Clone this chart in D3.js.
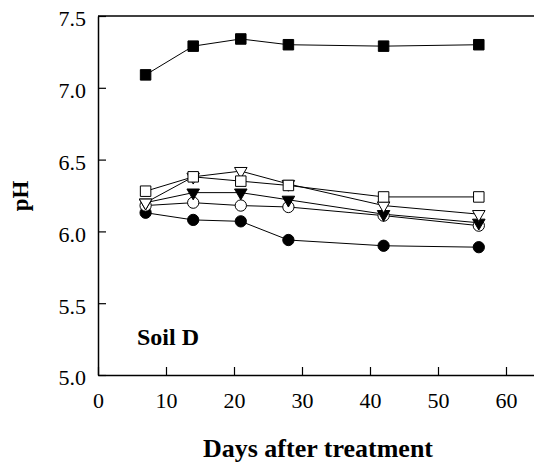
<!DOCTYPE html>
<html>
<head>
<meta charset="utf-8">
<script src="https://cdn.jsdelivr.net/npm/d3@7"></script>
<style>
  html, body { margin: 0; padding: 0; background: #fff; }
  svg { display: block; }
</style>
</head>
<body>
<svg id="chart" width="534" height="463"></svg>
<script>
// Sampling days
const days = [7, 14, 21, 28, 42, 56];

// pH by treatment
const filledSquare   = [7.09, 7.29, 7.34, 7.30, 7.29, 7.30];
const openSquare     = [6.28, 6.38, 6.35, 6.32, 6.24, 6.24];
const openTriangle   = [6.20, 6.38, 6.42, 6.33, 6.18, 6.12];
const filledTriangle = [6.20, 6.27, 6.27, 6.22, 6.12, 6.06];
const openCircle     = [6.18, 6.20, 6.18, 6.17, 6.11, 6.04];
const filledCircle   = [6.13, 6.08, 6.07, 5.94, 5.90, 5.89];

const xTicks = [0, 10, 20, 30, 40, 50, 60];
const yTicks = [5.0, 5.5, 6.0, 6.5, 7.0, 7.5];

const series = [
  { values: filledCircle,   shape: "circle",   fill: "#000" },
  { values: openCircle,     shape: "circle",   fill: "#fff" },
  { values: filledTriangle, shape: "triangle", fill: "#000" },
  { values: openTriangle,   shape: "triangle", fill: "#fff" },
  { values: openSquare,     shape: "square",   fill: "#fff" },
  { values: filledSquare,   shape: "square",   fill: "#000" }
];

const FONT = "Liberation Serif";
const svg = d3.select("#chart");
const plotLeft = 98, plotTop = 16, plotBottom = 375;
const x = d3.scaleLinear().domain([0, 65]).range([plotLeft, plotLeft + 6.8 * 65]);
const y = d3.scaleLinear().domain([5.0, 7.5]).range([plotBottom, plotTop]);

// Frame (top and right edges)
svg.append("line").attr("x1", x(0)).attr("x2", x(65)).attr("y1", y(7.5)).attr("y2", y(7.5))
  .attr("stroke", "#000").attr("stroke-width", 1.5);
svg.append("line").attr("x1", x(65)).attr("x2", x(65)).attr("y1", y(7.5)).attr("y2", y(5.0))
  .attr("stroke", "#000").attr("stroke-width", 1.5);

// Axes with inward ticks
const xAxis = svg.append("g").attr("transform", `translate(0,${plotBottom})`)
  .call(d3.axisBottom(x).tickValues(xTicks).tickSizeInner(-8).tickSizeOuter(0).tickPadding(17));
const yAxis = svg.append("g").attr("transform", `translate(${plotLeft},0)`)
  .call(d3.axisLeft(y).tickValues(yTicks).tickSizeInner(-8).tickSizeOuter(0).tickPadding(12)
    .tickFormat(d3.format(".1f")));
[xAxis, yAxis].forEach(g => {
  g.select(".domain").attr("stroke-width", 1.5);
  g.selectAll(".tick line").attr("stroke-width", 1.2);
  g.selectAll("text").attr("fill", "#000")
    .style("font-family", FONT).style("font-size", "22px");
});
xAxis.selectAll(".tick text").attr("dy", "0.71em");
yAxis.selectAll(".tick text").attr("dy", "0.45em");

// Lines and markers
const line = d3.line().x((d, i) => x(days[i])).y(d => y(d));
const sym = {
  circle: d3.symbol().type(d3.symbolCircle).size(100),
  square: d3.symbol().type(d3.symbolSquare).size(110),
  triangle: d3.symbol().type(d3.symbolTriangle).size(68)
};
series.forEach(s => {
  svg.append("path").datum(s.values).attr("d", line)
    .attr("fill", "none").attr("stroke", "#000").attr("stroke-width", 1);
});
series.forEach(s => {
  svg.append("g").selectAll("path").data(s.values).join("path")
    .attr("d", sym[s.shape])
    .attr("transform", (d, i) => `translate(${x(days[i])},${y(d)})` + (s.shape === "triangle" ? " rotate(180)" : ""))
    .attr("fill", s.fill).attr("stroke", "#000").attr("stroke-width", 1);
});

// Labels
function label(t) {
  return t.style("font-family", FONT).style("font-weight", "bold");
}
label(svg.append("text").attr("x", 137).attr("y", 345).style("font-size", "24px")).text("Soil D");
label(svg.append("text").attr("x", 318).attr("y", 457).attr("text-anchor", "middle")
  .style("font-size", "26px")).text("Days after treatment");
label(svg.append("text").attr("transform", "translate(28,196) rotate(-90)").attr("text-anchor", "middle")
  .style("font-size", "23px")).text("pH");
</script>
</body>
</html>
